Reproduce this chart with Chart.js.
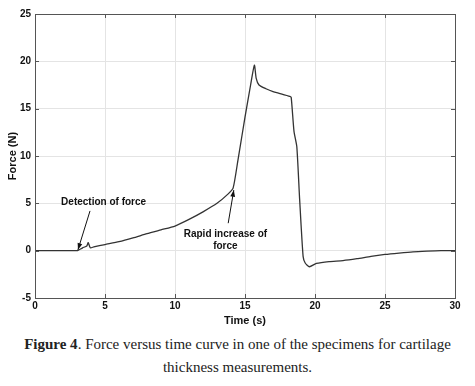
<!DOCTYPE html>
<html>
<head>
<meta charset="utf-8">
<script src="https://cdn.jsdelivr.net/npm/chart.js@4.4.1/dist/chart.umd.min.js"></script>
<style>
  body { margin: 0; background: #fff; width: 475px; height: 386px; overflow: hidden; }
  #wrap { position: relative; width: 475px; height: 328px; }
  #caption {
    font-family: "Liberation Serif", "Times New Roman", serif;
    font-size: 15px; line-height: 23px; text-align: center; color: #222;
    margin-top: 5px;
  }
</style>
</head>
<body>
<div id="wrap"><canvas id="forceChart" width="475" height="328"></canvas></div>
<div id="caption"><b>Figure 4</b>. Force versus time curve in one of the specimens for cartilage<br>thickness measurements.</div>
<script>
// time (s) and force (N)
const times = [0, 1, 2, 3, 3.1, 3.4, 3.7, 3.8, 3.95, 4.2, 5, 6, 7, 8, 9, 10, 11, 12, 13, 13.8, 14.15,
  14.5, 15, 15.4, 15.67, 15.8, 16, 16.5, 17, 17.5, 18.2, 18.3, 18.5, 18.7, 18.9, 19.15, 19.3, 19.6,
  20.1, 21, 22, 23, 24, 25, 26, 27, 28, 29, 30];
const forces = [0, 0, 0, 0, 0.05, 0.3, 0.5, 0.85, 0.3, 0.4, 0.65, 0.95, 1.35, 1.8, 2.2, 2.6, 3.3, 4.1, 5.0, 6.0, 6.6,
  9.6, 14.1, 17.5, 19.6, 18.2, 17.5, 17.1, 16.8, 16.6, 16.3, 16.2, 12.6, 11.0, 5.5, -0.6, -1.3, -1.7,
  -1.35, -1.15, -1.05, -0.85, -0.6, -0.4, -0.25, -0.12, -0.05, 0, 0];

const xTicks = [0, 5, 10, 15, 20, 25, 30];
const yTicks = [-5, 0, 5, 10, 15, 20, 25];

// notes with arrows: text position and arrow from/to in data units
const notes = [
  { lines: ["Detection of force"], x: 4.9, y: 5.1, from: [3.93, 4.2], to: [3.07, 0.1] },
  { lines: ["Rapid increase of", "force"], x: 13.6, y: 1.75, from: [13.8, 2.9], to: [14.2, 6.4] }
];

const points = times.map(function (t, i) { return { x: t, y: forces[i] }; });

const tickFont = { family: "'Liberation Sans', Arial, sans-serif", size: 10, weight: "bold" };
const titleFont = { family: "'Liberation Sans', Arial, sans-serif", size: 11, weight: "bold" };

const framePlugin = {
  id: "frame",
  afterDraw: function (chart) {
    const c = chart.ctx;
    const a = chart.chartArea;
    const xs = chart.scales.x, ys = chart.scales.y;
    c.save();
    c.strokeStyle = "#555";
    c.lineWidth = 1;
    c.strokeRect(a.left + 0.5, a.top + 0.5, a.right - a.left, a.bottom - a.top);
    // inward ticks
    xTicks.forEach(function (v) {
      const px = Math.round(xs.getPixelForValue(v)) + 0.5;
      c.beginPath();
      c.moveTo(px, a.bottom); c.lineTo(px, a.bottom - 4);
      c.moveTo(px, a.top); c.lineTo(px, a.top + 4);
      c.stroke();
    });
    yTicks.forEach(function (v) {
      const py = Math.round(ys.getPixelForValue(v)) + 0.5;
      c.beginPath();
      c.moveTo(a.left, py); c.lineTo(a.left + 4, py);
      c.moveTo(a.right, py); c.lineTo(a.right - 4, py);
      c.stroke();
    });

    // annotations
    c.fillStyle = "#111";
    c.strokeStyle = "#111";
    c.font = "bold 10px 'Liberation Sans', Arial, sans-serif";
    c.textAlign = "center";
    c.textBaseline = "middle";
    notes.forEach(function (n) {
      const tx = xs.getPixelForValue(n.x);
      const ty = ys.getPixelForValue(n.y);
      n.lines.forEach(function (l, i) { c.fillText(l, tx, ty + i * 12); });
      const x1 = xs.getPixelForValue(n.from[0]), y1 = ys.getPixelForValue(n.from[1]);
      const x2 = xs.getPixelForValue(n.to[0]), y2 = ys.getPixelForValue(n.to[1]);
      c.lineWidth = 1;
      c.beginPath(); c.moveTo(x1, y1); c.lineTo(x2, y2); c.stroke();
      const ang = Math.atan2(y2 - y1, x2 - x1);
      c.beginPath();
      c.moveTo(x2, y2);
      c.lineTo(x2 - 7 * Math.cos(ang - 0.35), y2 - 7 * Math.sin(ang - 0.35));
      c.lineTo(x2 - 7 * Math.cos(ang + 0.35), y2 - 7 * Math.sin(ang + 0.35));
      c.closePath();
      c.fill();
    });
    c.restore();
  }
};

new Chart(document.getElementById("forceChart"), {
  type: "line",
  data: {
    datasets: [{
      data: points,
      borderColor: "#333",
      borderWidth: 1.3,
      pointRadius: 0,
      tension: 0.2,
      fill: false
    }]
  },
  options: {
    responsive: false,
    animation: false,
    layout: { padding: { left: 0, top: 14, right: 20, bottom: 0 } },
    plugins: { legend: { display: false }, tooltip: { enabled: false } },
    scales: {
      x: {
        type: "linear", min: 0, max: 30,
        afterBuildTicks: function (s) { s.ticks = xTicks.map(function (v) { return { value: v }; }); },
        afterFit: function (s) { s.height = 30; },
        grid: { color: "#e4e4e4", drawTicks: false },
        border: { display: false },
        ticks: { color: "#111", font: tickFont, padding: 2, maxRotation: 0 },
        title: { display: true, text: "Time (s)", color: "#111", font: titleFont, padding: { top: 0, bottom: 0 } }
      },
      y: {
        type: "linear", min: -5, max: 25,
        afterBuildTicks: function (s) { s.ticks = yTicks.map(function (v) { return { value: v }; }); },
        afterFit: function (s) { s.width = 35; },
        grid: { color: "#e4e4e4", drawTicks: false },
        border: { display: false },
        ticks: { color: "#111", font: tickFont, padding: 4 },
        title: { display: true, text: "Force (N)", color: "#111", font: titleFont, padding: { top: 6, bottom: 0 } }
      }
    }
  },
  plugins: [framePlugin]
});
</script>
</body>
</html>
